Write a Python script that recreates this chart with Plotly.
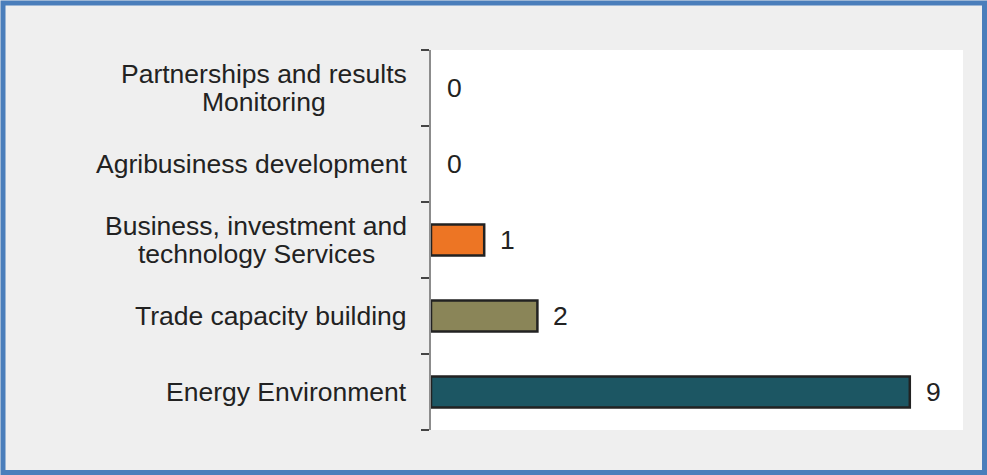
import plotly.graph_objects as go

# ---- data (top to bottom, as shown) ----
categories = [
    "Partnerships and results\nMonitoring",
    "Agribusiness development",
    "Business, investment and\ntechnology Services",
    "Trade capacity building",
    "Energy Environment",
]
values = [0, 0, 1, 2, 9]
bar_colors = ["#FFFFFF", "#FFFFFF", "#ED7524", "#8A8558", "#1C5663"]

# ---- layout constants ----
W, H = 987, 475
ML, MR, MT, MB = 431, 24, 50, 45
PW, PH = W - ML - MR, H - MT - MB
FONT = "Liberation Sans, Arial, sans-serif"
FS = 26.5
TXT = "#222222"

# Arial / Liberation Sans advance widths (per 1000 em)
AW = {" ": 278, ",": 278, "a": 556, "b": 556, "c": 500, "d": 556, "e": 556, "f": 278,
      "g": 556, "h": 556, "i": 222, "j": 222, "k": 500, "l": 222, "m": 833, "n": 556,
      "o": 556, "p": 556, "q": 556, "r": 333, "s": 500, "t": 278, "u": 556, "v": 500,
      "w": 722, "x": 500, "y": 500, "z": 500, "A": 667, "B": 667, "C": 722, "D": 722,
      "E": 667, "F": 611, "G": 778, "H": 722, "I": 278, "M": 833, "P": 667, "S": 667,
      "T": 611}


def text_w(s):
    return sum(AW.get(ch, 556) for ch in s) * FS / 1000.0


ids = list(range(len(categories)))
line_widths = [2.5 if v > 0 else 0 for v in values]

fig = go.Figure(
    go.Bar(
        x=values,
        y=ids,
        orientation="h",
        marker=dict(color=bar_colors, line=dict(color="#222222", width=line_widths)),
        width=0.41,
        hoverinfo="skip",
    )
)

annotations = []
LABEL_GAP = 24
LINE_SP = 28
for i, (cat, v) in enumerate(zip(categories, values)):
    lines = cat.split("\n")
    maxw = max(text_w(l) for l in lines)
    n = len(lines)
    for j, line in enumerate(lines):
        off = (j - (n - 1) / 2) * LINE_SP
        annotations.append(dict(
            x=0, xref="paper", y=i, yref="y",
            text=line, showarrow=False,
            xanchor="center", yanchor="middle",
            xshift=-LABEL_GAP - maxw / 2, yshift=-off,
            font=dict(family=FONT, size=FS, color=TXT),
        ))
    annotations.append(dict(
        x=v, xref="x", y=i, yref="y",
        text=str(v), showarrow=False,
        xanchor="left", yanchor="middle", xshift=14,
        font=dict(family=FONT, size=FS, color=TXT),
    ))


def px_x(p):
    return (p - ML) / PW


def px_y(p):
    return (H - MB - p) / PH


fig.update_layout(
    width=W, height=H,
    margin=dict(l=ML, r=MR, t=MT, b=MB, pad=0),
    paper_bgcolor="#EFEFEF",
    plot_bgcolor="#FFFFFF",
    showlegend=False,
    annotations=annotations,
    shapes=[dict(
        type="rect", xref="paper", yref="paper",
        x0=px_x(3), x1=px_x(984.5), y0=px_y(472.5), y1=px_y(3),
        line=dict(color="#4A7EBB", width=5), fillcolor="rgba(0,0,0,0)",
        layer="above",
    )],
    xaxis=dict(range=[0, 10], visible=False, fixedrange=True),
    yaxis=dict(
        type="linear", range=[len(categories) - 0.5, -0.5],
        tickmode="array", tickvals=[k - 0.5 for k in range(len(categories) + 1)],
        ticktext=[""] * (len(categories) + 1),
        ticks="outside", ticklen=8, tickwidth=1.5, tickcolor="#444444",
        showline=True, linecolor="#8C8C8C", linewidth=2,
        showgrid=False, zeroline=False, fixedrange=True,
    ),
)

fig.write_html(
    "out.html",
    config={"displayModeBar": False},
    post_script="document.body.style.margin='0';document.body.style.overflow='hidden';",
)
